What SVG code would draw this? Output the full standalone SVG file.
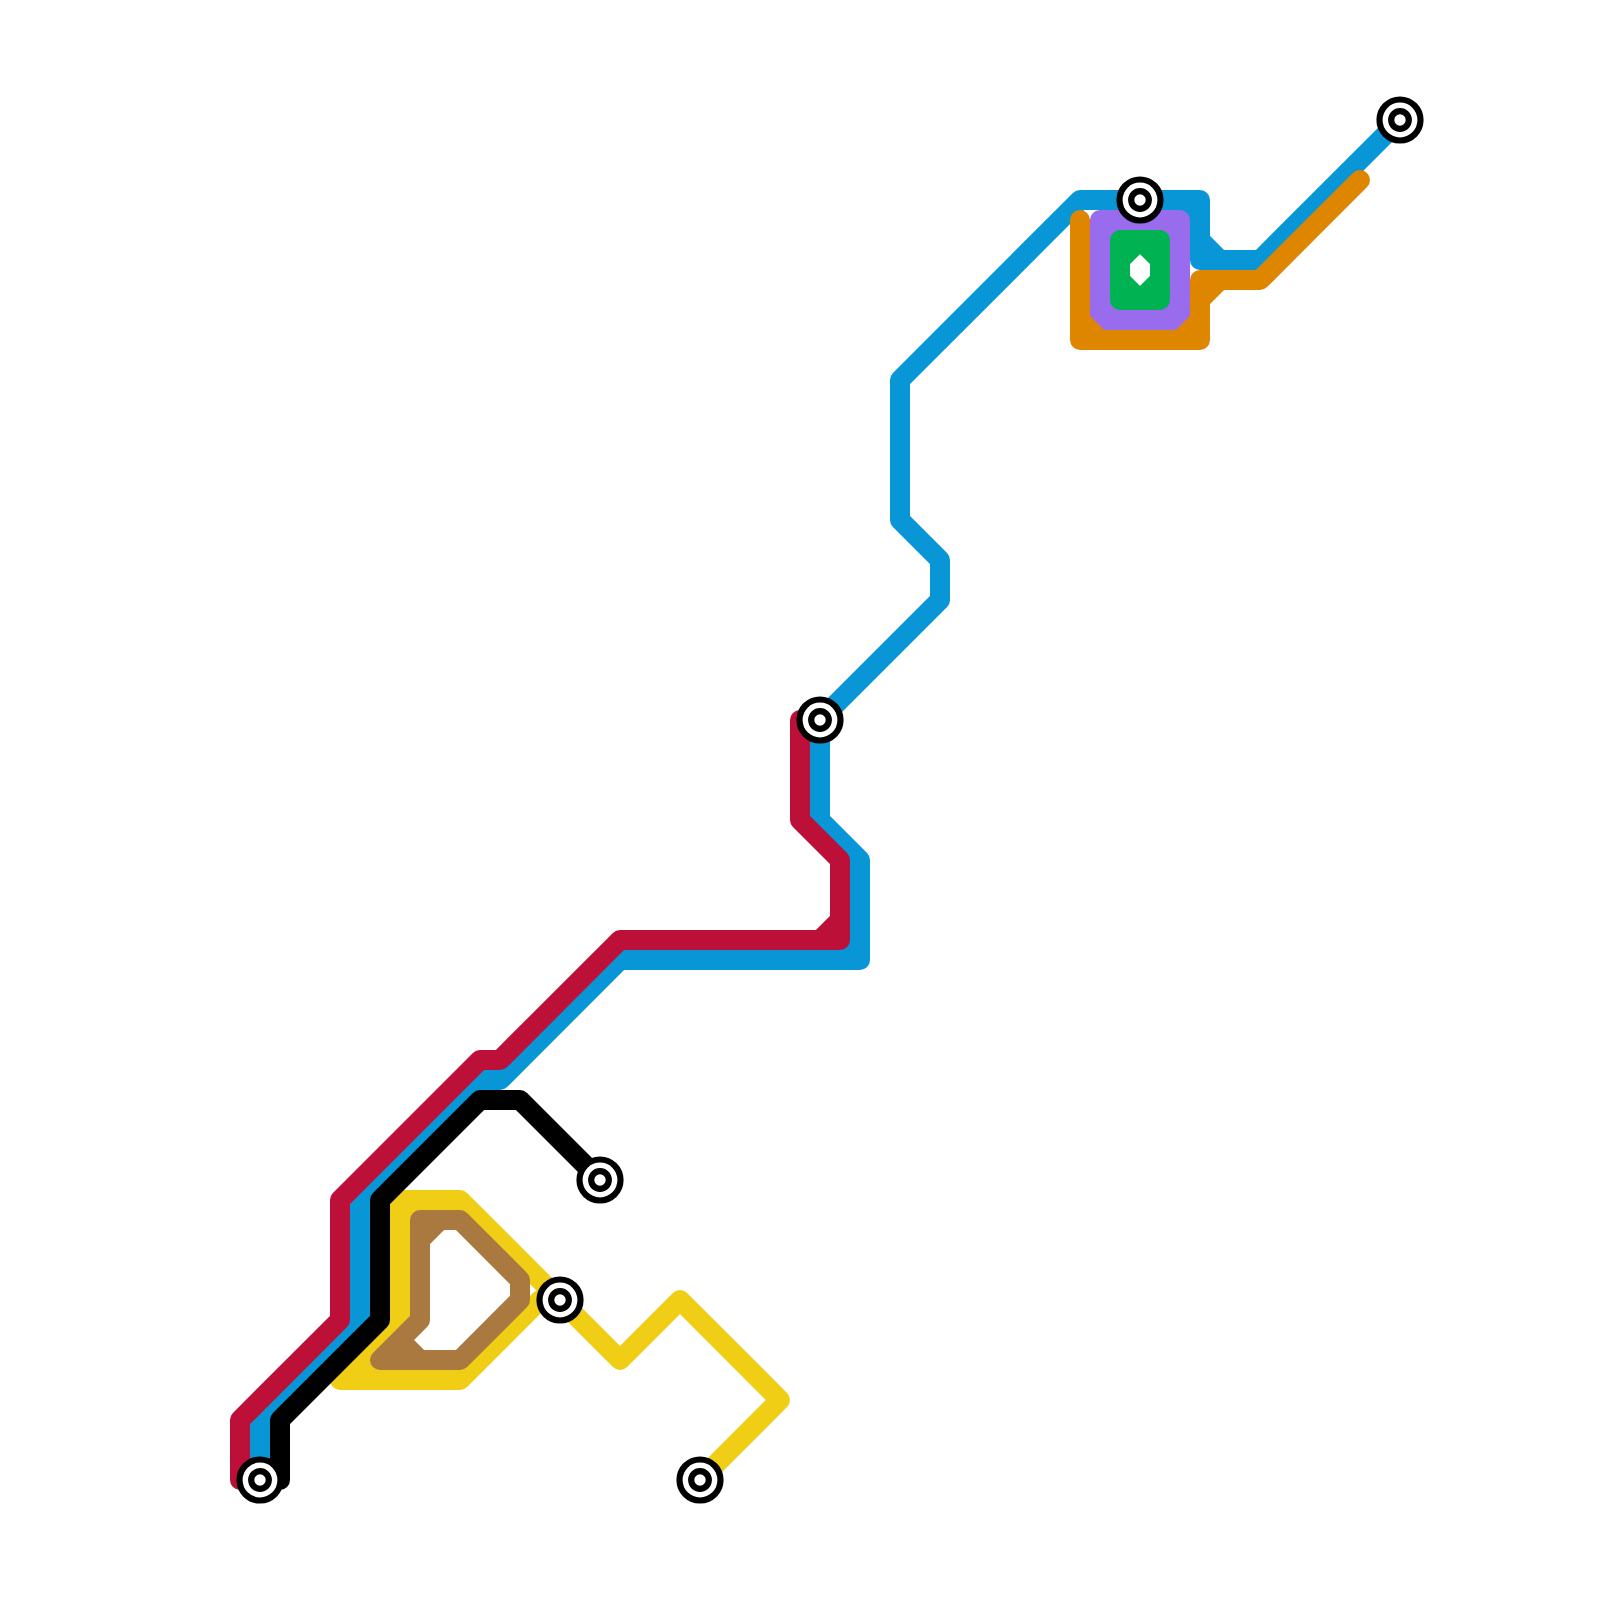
<svg xmlns="http://www.w3.org/2000/svg" width="1600" height="1600" viewBox="0 0 1600 1600">
<style>
.l{fill:none;stroke-width:20;stroke-linecap:round;stroke-linejoin:round}
.y{stroke:#f0ce15}.br{stroke:#a9793f}.b{stroke:#0896d7}.r{stroke:#bd1038}.k{stroke:#000}.p{stroke:#996bed}.o{stroke:#df8600}.g{stroke:#00b251}
.s{fill:#fff;stroke:#000;stroke-width:6.2}
</style>
<rect width="1600" height="1600" fill="#fff"/>
<g id="connectors">
<path class="l y" d="M700 1480L780 1400L680 1300L620 1360L560 1300L460 1200H380M560 1300H540L460 1380H340L400 1320V1200M400 1220L420 1200M360 1360L380 1380"/>
<path class="l br" d="M420 1220H460L520 1280V1300L460 1360H380L420 1320V1220M420 1240L440 1220M400 1340L420 1360"/>
<path class="l b" d="M1400 120L1260 260H1200V200H1080L900 380V520L940 560V600L820 720V820L860 860V960H620L500 1080H480L360 1200V1320L260 1420V1480M1200 240L1220 260M860 940L840 960M1180 200L1200 220"/>
<path class="l r" d="M820 720H800V820L840 860V940H620L500 1060H480L340 1200V1320L240 1420V1480H260M840 920L820 940"/>
<path class="l k" d="M600 1180L520 1100H480L380 1200V1320L280 1420V1480H260"/>
<path class="l p" d="M1100 220H1180V320H1100ZM1100 240L1120 220M1160 220L1180 240M1100 300L1120 320M1160 320L1180 300"/>
<path class="l o" d="M1360 180L1260 280H1200V340H1080V220M1200 300L1220 280M1080 320L1100 340M1200 320L1180 340"/>
<path class="l g" d="M1120 240H1160V300H1120ZM1120 260L1140 240L1160 260M1120 280L1140 300L1160 280"/>
</g>
<g id="station-1"><circle class="s" cx="1400" cy="120" r="20.5"/><circle class="s" cx="1400" cy="120" r="8.8"/></g>
<g id="station-2"><circle class="s" cx="1140" cy="200" r="20.5"/><circle class="s" cx="1140" cy="200" r="8.8"/></g>
<g id="station-3"><circle class="s" cx="820" cy="720" r="20.5"/><circle class="s" cx="820" cy="720" r="8.8"/></g>
<g id="station-4"><circle class="s" cx="600" cy="1180" r="20.5"/><circle class="s" cx="600" cy="1180" r="8.8"/></g>
<g id="station-5"><circle class="s" cx="560" cy="1300" r="20.5"/><circle class="s" cx="560" cy="1300" r="8.8"/></g>
<g id="station-6"><circle class="s" cx="700" cy="1480" r="20.5"/><circle class="s" cx="700" cy="1480" r="8.8"/></g>
<g id="station-7"><circle class="s" cx="260" cy="1480" r="20.5"/><circle class="s" cx="260" cy="1480" r="8.8"/></g>
</svg>
